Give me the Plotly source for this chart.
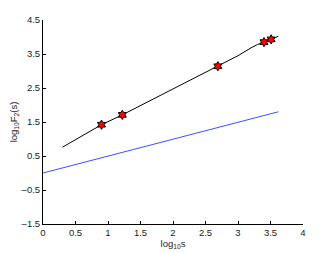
import plotly.graph_objects as go

curve_x = [0.30, 0.50, 0.70, 0.90, 1.22, 1.50, 2.00, 2.50, 2.69, 3.00, 3.20, 3.30, 3.40, 3.51, 3.62]
curve_y = [0.76, 0.98, 1.20, 1.42, 1.71, 1.98, 2.47, 2.96, 3.14, 3.45, 3.68, 3.78, 3.85, 3.93, 4.02]
mark_x = [0.90, 1.22, 2.69, 3.40, 3.51]
mark_y = [1.42, 1.71, 3.14, 3.85, 3.93]
seg_x = [3.40, 3.51]
seg_y = [3.85, 3.93]
ref_x = [0.0, 3.62]
ref_y = [0.0, 1.80]

xticks = [0, 0.5, 1, 1.5, 2, 2.5, 3, 3.5, 4]
yticks = [-1.5, -0.5, 0.5, 1.5, 2.5, 3.5, 4.5]

FONT = "Liberation Sans, Arial"

fig = go.Figure()
fig.add_trace(go.Scatter(x=ref_x, y=ref_y, mode="lines", line=dict(color="#3355ff", width=1)))
fig.add_trace(go.Scatter(x=curve_x, y=curve_y, mode="lines", line=dict(color="black", width=1)))
fig.add_trace(go.Scatter(x=seg_x, y=seg_y, mode="lines", line=dict(color="red", width=1.5)))
fig.add_trace(go.Scatter(x=mark_x, y=mark_y, mode="markers",
                         marker=dict(symbol="hexagram", size=7, color="red",
                                     line=dict(color="black", width=1))))

axis_common = dict(showgrid=False, zeroline=False, showline=True, linecolor="black", linewidth=1,
                   ticks="inside", ticklen=3, tickcolor="black", mirror=False, automargin=False,
                   tickfont=dict(family=FONT, size=9.5, color="#222"))
fig.update_layout(
    width=328, height=245,
    margin=dict(l=35, r=33, t=12, b=29),
    paper_bgcolor="white", plot_bgcolor="white",
    showlegend=False,
    xaxis=dict(range=[0, 4], tickvals=xticks, ticktext=[str(v) if v != int(v) else str(int(v)) for v in xticks],
               title=dict(text="log<sub>10</sub>s", standoff=1,
                          font=dict(family=FONT, size=9.5, color="#222")),
               **axis_common),
    yaxis=dict(range=[-1.5, 4.5], tickvals=yticks, ticktext=[("\u2013" + str(abs(v))) if v < 0 else str(v) for v in yticks],
               title=dict(text="log<sub>10</sub>F<sub>2</sub>(s)", standoff=3,
                          font=dict(family=FONT, size=9.5, color="#222")),
               **axis_common),
)
fig.write_html("out.html")
